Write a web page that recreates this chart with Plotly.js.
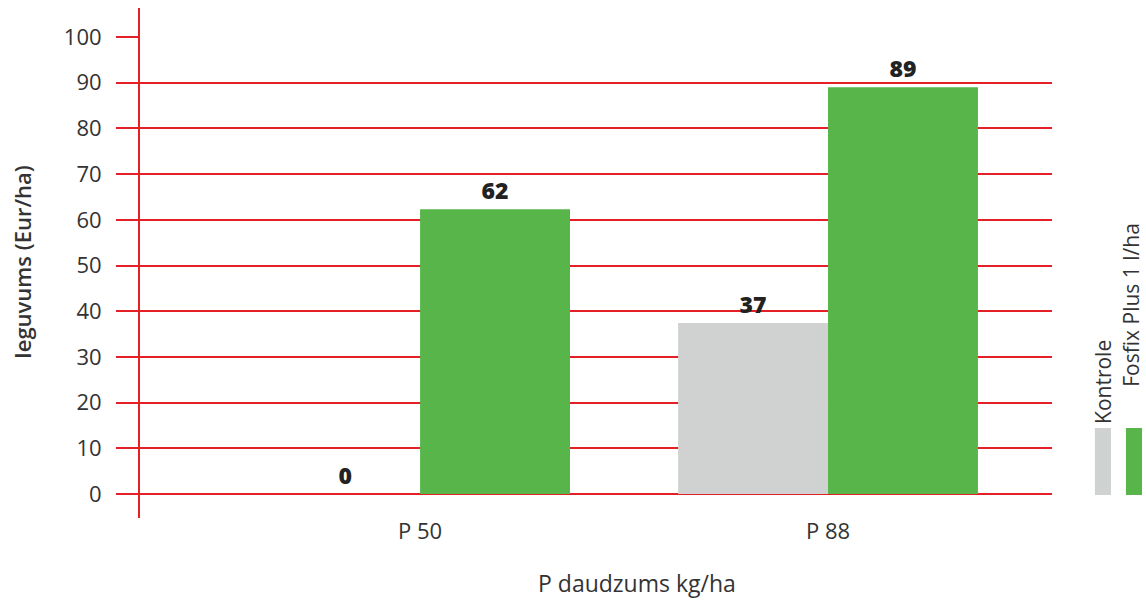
<!DOCTYPE html>
<html>
<head>
<meta charset="utf-8">
<script src="https://cdn.plot.ly/plotly-3.0.1.min.js"></script>
<style>html,body{margin:0;padding:0;background:#fff;}#chart{width:1146px;height:600px;}</style>
</head>
<body>
<div id="chart"></div>
<script>
const categories = ["P 50", "P 88"];
const seriesNames = ["Kontrole", "Fosfix Plus 1 l/ha"];
const kontrole = [0, 37.4];
const fosfix = [62.3, 89];
const yTicks = [0, 10, 20, 30, 40, 50, 60, 70, 80, 90, 100];

const RED = "#e41f26";
const GREEN = "#58b54a";
const GRAY = "#d0d1d1";
const TXT = "#333333";
const FONT = "'Open Sans', sans-serif";

const traces = [
  {type: "bar", name: seriesNames[0], x: categories, y: kontrole, marker: {color: GRAY},
   texttemplate: "%{y:.0f}", textposition: "outside", cliponaxis: false,
   textfont: {family: FONT, size: 23, color: "#222", weight: 800}},
  {type: "bar", name: seriesNames[1], x: categories, y: fosfix, marker: {color: GREEN},
   texttemplate: "%{y:.0f}", textposition: "outside", cliponaxis: false,
   textfont: {family: FONT, size: 23, color: "#222", weight: 800}}
];

const layout = {
  width: 1146, height: 600,
  margin: {l: 139, r: 94, t: 37, b: 106},
  paper_bgcolor: "#fff", plot_bgcolor: "#fff",
  showlegend: false,
  barmode: "group", bargap: 0.265, bargroupgap: 0,
  font: {family: FONT, color: TXT, size: 21},
  xaxis: {type: "category", range: [-0.689, 1.549], showgrid: false, zeroline: false,
    showline: false, ticks: "", ticklabelstandoff: 22,
    tickfont: {family: FONT, size: 22, color: TXT}},
  yaxis: {range: [0, 100], tickvals: yTicks, showgrid: true, gridcolor: RED, gridwidth: 2,
    zeroline: true, zerolinecolor: RED, zerolinewidth: 2, showline: false,
    ticks: "outside", ticklen: 22, tickwidth: 2, tickcolor: RED, ticklabelstandoff: 10,
    tickfont: {family: FONT, size: 22, color: TXT}},
  shapes: [
    {type: "line", xref: "paper", yref: "paper", x0: 0, x1: 0, y0: -0.0525, y1: 1.0635,
     line: {color: RED, width: 2}},
    {type: "rect", xref: "paper", yref: "paper", x0: 1.047, x1: 1.0646, y0: -0.002, y1: 0.1444,
     fillcolor: GRAY, line: {width: 0}},
    {type: "rect", xref: "paper", yref: "paper", x0: 1.081, x1: 1.0986, y0: -0.002, y1: 0.1444,
     fillcolor: GREEN, line: {width: 0}}
  ],
  annotations: [
    {text: seriesNames[0], xref: "paper", yref: "paper", x: 1.0558, y: 0.245, textangle: -90,
     xanchor: "center", yanchor: "middle", showarrow: false, font: {family: FONT, size: 21, color: TXT}},
    {text: seriesNames[1], xref: "paper", yref: "paper", x: 1.0865, y: 0.414, textangle: -90,
     xanchor: "center", yanchor: "middle", showarrow: false, font: {family: FONT, size: 21, color: TXT}},
    {text: "Ieguvums (Eur/ha)", xref: "paper", yref: "paper", x: -0.128, y: 0.508, textangle: -90,
     xanchor: "center", yanchor: "middle", showarrow: false, font: {family: FONT, size: 22, color: TXT, weight: 600}},
    {text: "P daudzums kg/ha", xref: "paper", yref: "paper", x: 0.545, y: -0.195,
     xanchor: "center", yanchor: "middle", showarrow: false, font: {family: FONT, size: 23, color: TXT}}
  ]
};

Plotly.newPlot("chart", traces, layout, {displayModeBar: false, staticPlot: true});
</script>
</body>
</html>
